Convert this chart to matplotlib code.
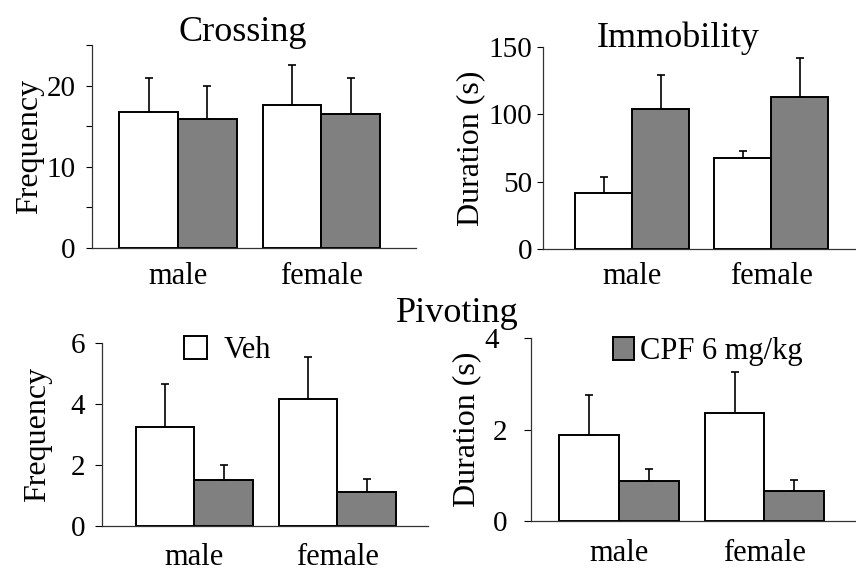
import numpy as np
import matplotlib.pyplot as plt
import matplotlib.transforms as mtransforms
from matplotlib.patches import Patch

plt.rcParams['font.family'] = ['Liberation Serif', 'DejaVu Serif']

groups = ['male', 'female']
series = ['Veh', 'CPF 6 mg/kg']

cross_veh = [16.8, 17.65]
cross_veh_err = [4.1, 4.85]
cross_cpf = [15.9, 16.5]
cross_cpf_err = [4.0, 4.4]

immob_veh = [41.7, 67.8]
immob_veh_err = [11.9, 5.2]
immob_cpf = [104.0, 113.2]
immob_cpf_err = [25.3, 28.8]

pivf_veh = [3.26, 4.17]
pivf_veh_err = [1.40, 1.37]
pivf_cpf = [1.50, 1.10]
pivf_cpf_err = [0.49, 0.44]

pivd_veh = [1.87, 2.36]
pivd_veh_err = [0.89, 0.89]
pivd_cpf = [0.87, 0.65]
pivd_cpf_err = [0.27, 0.25]

W, H = 856, 570
fig = plt.figure(figsize=(W / 100, H / 100), dpi=100)


def box(l, r, t, b):
    return [l / W, 1 - b / H, (r - l) / W, (b - t) / H]


gray = '#808080'
bw = 0.41
x = np.arange(len(groups))


def panel(rect, veh, veh_err, cpf, cpf_err, ylim, ticks, minor, xlim,
          ylabel, ylab_x, xpad, ypad, tlen):
    ax = fig.add_axes(rect)
    ax.bar(x - bw / 2, veh, bw, color='white', edgecolor='black', lw=1.4)
    ax.bar(x + bw / 2, cpf, bw, color=gray, edgecolor='black', lw=1.4)
    ax.errorbar(x - bw / 2, veh, yerr=[np.zeros(2), veh_err], fmt='none',
                ecolor='black', elinewidth=1.2, capsize=3, capthick=1.2, zorder=1)
    ax.errorbar(x + bw / 2, cpf, yerr=[np.zeros(2), cpf_err], fmt='none',
                ecolor='black', elinewidth=1.2, capsize=3, capthick=1.2, zorder=1)
    ax.set_xlim(*xlim)
    ax.set_ylim(*ylim)
    ax.set_yticks(ticks)
    ax.set_yticks(minor, minor=True)
    ax.set_xticks(x)
    ax.set_xticklabels(groups, fontsize=22)
    ax.tick_params(axis='x', length=0, pad=xpad)
    ax.tick_params(axis='y', which='both', length=tlen, width=0.8, labelsize=21, pad=ypad)
    for s in ['top', 'right']:
        ax.spines[s].set_visible(False)
    for s in ['left', 'bottom']:
        ax.spines[s].set_linewidth(0.9)
        ax.spines[s].set_color('#333333')
    ax.set_ylabel(ylabel, fontsize=23)
    ax.yaxis.set_label_coords(ylab_x, rect[1] + rect[3] / 2, transform=fig.transFigure)
    return ax


ax1 = panel(box(92, 416, 45, 248), cross_veh, cross_veh_err, cross_cpf, cross_cpf_err,
            (0, 25), [0, 10, 20], [5, 15, 25], (-0.60, 1.66), 'Frequency', 44 / W, 10, 8, 4)
ax2 = panel(box(543, 856, 47, 249), immob_veh, immob_veh_err, immob_cpf, immob_cpf_err,
            (0, 150), [0, 50, 100, 150], [], (-0.64, 1.61), 'Duration (s)', 485 / W, 9, 4, 4)
ax3 = panel(box(102, 428, 343, 526), pivf_veh, pivf_veh_err, pivf_cpf, pivf_cpf_err,
            (0, 6), [0, 2, 4, 6], [], (-0.645, 1.634), 'Frequency', 52 / W, 12, 7, 5)
ax4 = panel(box(531, 856, 338, 521), pivd_veh, pivd_veh_err, pivd_cpf, pivd_cpf_err,
            (0, 4), [0, 2, 4], [], (-0.604, 1.63), 'Duration (s)', 481 / W, 13, 12, 5)

# the top "4" label sits a little left of its tick
top4 = ax4.get_yticklabels()[-1]
top4.set_transform(top4.get_transform() +
                   mtransforms.ScaledTranslation(-8 / 100, 0, fig.dpi_scale_trans))

fig.text(243 / W, 1 - 41 / H, 'Crossing', fontsize=26, ha='center', va='baseline')
fig.text(678 / W, 1 - 47 / H, 'Immobility', fontsize=26, ha='center', va='baseline')
fig.text(457 / W, 1 - 322 / H, 'Pivoting', fontsize=26, ha='center', va='baseline')

h_veh = Patch(facecolor='white', edgecolor='black', lw=1.4)
h_cpf = Patch(facecolor=gray, edgecolor='black', lw=1.4)
fig.legend([h_veh], [series[0]], loc='upper left', bbox_to_anchor=(184 / W, 1 - 336 / H),
           frameon=False, fontsize=22, handlelength=0.75, handleheight=0.75,
           handletextpad=0.55, borderpad=0, borderaxespad=0)
fig.legend([h_cpf], [series[1]], loc='upper left', bbox_to_anchor=(613 / W, 1 - 337 / H),
           frameon=False, fontsize=22, handlelength=0.7, handleheight=0.75,
           handletextpad=0.2, borderpad=0, borderaxespad=0)

plt.savefig('out.png', dpi=100)
